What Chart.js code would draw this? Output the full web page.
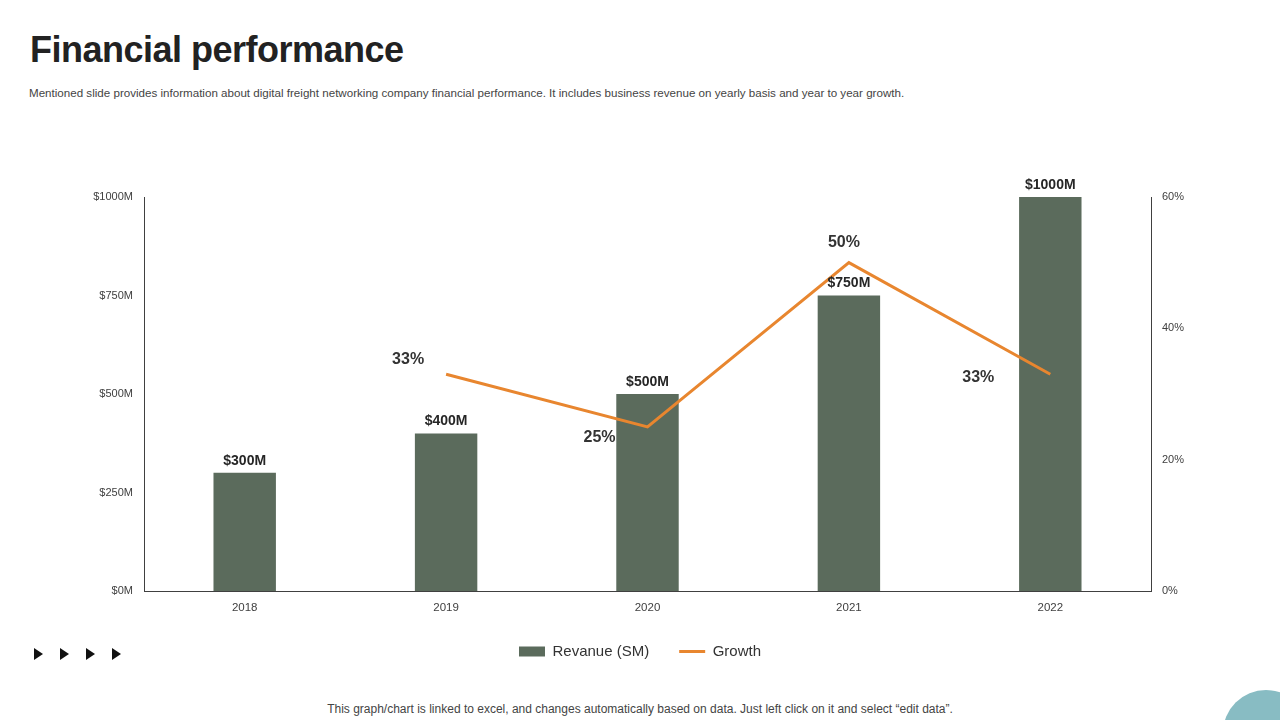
<!DOCTYPE html>
<html>
<head>
<meta charset="utf-8">
<script src="https://cdn.jsdelivr.net/npm/chart.js@4.4.1/dist/chart.umd.min.js"></script>
<style>
  html, body { margin: 0; padding: 0; background: #fff; }
  body { width: 1280px; height: 720px; position: relative; overflow: hidden; font-family: "Liberation Sans", Arial, sans-serif; }
  #title { position: absolute; left: 30px; top: 29px; font-size: 36px; font-weight: bold; color: #222; letter-spacing: -0.5px; }
  #sub { position: absolute; left: 29px; top: 86px; font-family: "Liberation Sans Narrow", "Arial Narrow", "Liberation Sans", sans-serif; font-size: 11.6px; color: #444; white-space: nowrap; }
  #foot { position: absolute; left: 0; width: 1280px; top: 702px; text-align: center; font-family: "Liberation Sans Narrow", "Arial Narrow", "Liberation Sans", sans-serif; font-size: 12px; color: #444; white-space: nowrap; }
  #chartBox { position: absolute; left: 0; top: 130px; width: 1280px; height: 545px; }
  .arrow { position: absolute; top: 648px; width: 0; height: 0; border-top: 6px solid transparent; border-bottom: 6px solid transparent; border-left: 9px solid #111; }
  #circle { position: absolute; left: 1223px; top: 690px; width: 86px; height: 86px; border-radius: 50%; background: #88bcc3; }
</style>
</head>
<body>
<div id="title">Financial performance</div>
<div id="sub">Mentioned slide provides information about digital freight networking company financial performance. It includes business revenue on yearly basis and year to year growth.</div>
<div id="chartBox"><canvas id="finChart"></canvas></div>
<div class="arrow" style="left:34px"></div>
<div class="arrow" style="left:60px"></div>
<div class="arrow" style="left:86px"></div>
<div class="arrow" style="left:112px"></div>
<div id="circle"></div>
<div id="foot">This graph/chart is linked to excel,  and changes automatically based on data. Just left click on it and select “edit data”.</div>

<script>
// Data
const years = ['2018', '2019', '2020', '2021', '2022'];
const revenue = [300, 400, 500, 750, 1000];
const growth = [null, 33, 25, 50, 33];
const revenueTicks = [0, 250, 500, 750, 1000];
const growthTicks = [0, 20, 40, 60];

// Value labels drawn next to bars and line points
const valueLabels = {
    id: 'valueLabels',
    afterDatasetsDraw(chart, args, opts) {
        const ctx = chart.ctx;
        ctx.save();
        ctx.textAlign = 'center';

        const barMeta = chart.getDatasetMeta(0);
        ctx.font = 'bold 14px "Liberation Sans", Arial, sans-serif';
        ctx.fillStyle = '#262626';
        ctx.textBaseline = 'bottom';
        barMeta.data.forEach((bar, i) => {
            ctx.fillText('$' + revenue[i] + 'M', bar.x, bar.y - 5);
        });

        const lineMeta = chart.getDatasetMeta(1);
        ctx.font = 'bold 16px "Liberation Sans", Arial, sans-serif';
        ctx.fillStyle = '#333';
        ctx.textBaseline = 'middle';
        lineMeta.data.forEach((pt, i) => {
            if (growth[i] === null) return;
            const off = opts.offsets[i];
            ctx.fillText(growth[i] + '%', pt.x + off[0], pt.y + off[1]);
        });
        ctx.restore();
    }
};

const ctxFin = document.getElementById('finChart').getContext('2d');
const finChart = new Chart(ctxFin, {
    type: 'bar',
    data: {
        labels: years,
        datasets: [{
            type: 'bar',
            label: 'Revanue (SM)',
            data: revenue,
            backgroundColor: '#5b6b5c',
            barPercentage: 0.31,
            categoryPercentage: 1,
            yAxisID: 'y',
            pointStyle: 'rect',
            order: 2
        }, {
            type: 'line',
            label: 'Growth',
            data: growth,
            borderColor: '#e8862f',
            backgroundColor: '#e8862f',
            borderWidth: 3,
            pointRadius: 0,
            tension: 0,
            yAxisID: 'y1',
            pointStyle: 'line',
            order: 1
        }]
    },
    options: {
        responsive: true,
        maintainAspectRatio: false,
        animation: false,
        layout: { padding: { top: 67, bottom: 6, left: 0, right: 0 } },
        scales: {
            x: {
                grid: { display: false },
                border: { display: true, color: '#404040', width: 1 },
                ticks: { color: '#404040', font: { size: 11.5, family: '"Liberation Sans", Arial' }, padding: 2 },
                afterFit: s => { s.height = 23; }
            },
            y: {
                position: 'left',
                min: 0, max: 1000,
                grid: { display: false },
                border: { display: true, color: '#404040', width: 1 },
                afterBuildTicks: s => { s.ticks = revenueTicks.map(v => ({ value: v })); },
                ticks: { color: '#404040', font: { size: 11, family: '"Liberation Sans", Arial' }, padding: 3, callback: v => '$' + v + 'M' },
                afterFit: s => { s.width = 144; }
            },
            y1: {
                position: 'right',
                min: 0, max: 60,
                grid: { display: false },
                border: { display: true, color: '#404040', width: 1 },
                afterBuildTicks: s => { s.ticks = growthTicks.map(v => ({ value: v })); },
                ticks: { color: '#404040', font: { size: 11, family: '"Liberation Sans", Arial' }, padding: 3, callback: v => v + '%' },
                afterFit: s => { s.width = 129; }
            }
        },
        plugins: {
            legend: {
                position: 'bottom',
                labels: {
                    usePointStyle: true,
                    pointStyleWidth: 26,
                    boxHeight: 10,
                    padding: 30,
                    color: '#333',
                    font: { size: 15, family: '"Liberation Sans", Arial' },
                    sort: (a, b) => a.datasetIndex - b.datasetIndex
                }
            },
            tooltip: { enabled: false },
            valueLabels: { offsets: [[0, 0], [-38, -15], [-48, 11], [-5, -20], [-72, 3]] }
        }
    },
    plugins: [valueLabels]
});
</script>
</body>
</html>
